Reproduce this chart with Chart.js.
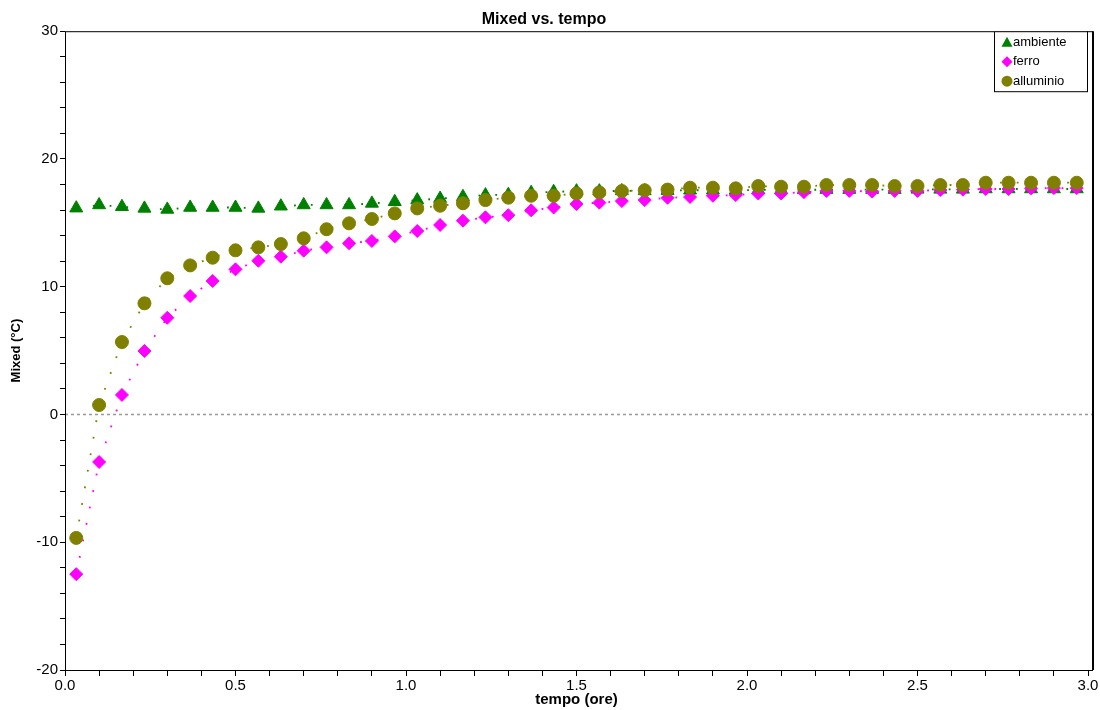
<!DOCTYPE html>
<html>
<head>
<meta charset="utf-8">
<script src="https://cdn.jsdelivr.net/npm/chart.js@4.4.0/dist/chart.umd.min.js"></script>
<style>
  html, body { margin: 0; padding: 0; background: #fff; }
  #wrap { width: 1100px; height: 710px; }
</style>
</head>
<body>
<div id="wrap"><canvas id="graph"></canvas></div>
<script>
// tempo (ore)
const tempo = [0.033, 0.1, 0.167, 0.233, 0.3, 0.367, 0.433, 0.5, 0.567, 0.633,
  0.7, 0.767, 0.833, 0.9, 0.967, 1.033, 1.1, 1.167, 1.233, 1.3,
  1.367, 1.433, 1.5, 1.567, 1.633, 1.7, 1.767, 1.833, 1.9, 1.967,
  2.033, 2.1, 2.167, 2.233, 2.3, 2.367, 2.433, 2.5, 2.567, 2.633,
  2.7, 2.767, 2.833, 2.9, 2.967];

const ambiente = [16.15, 16.4, 16.26, 16.13, 16.05, 16.2, 16.2, 16.2, 16.13, 16.3,
  16.4, 16.4, 16.4, 16.52, 16.65, 16.78, 16.9, 17.04, 17.17, 17.2,
  17.36, 17.43, 17.48, 17.48, 17.5, 17.5, 17.52, 17.55, 17.55, 17.55,
  17.58, 17.58, 17.58, 17.6, 17.6, 17.6, 17.6, 17.62, 17.62, 17.62,
  17.65, 17.65, 17.65, 17.65, 17.65];

const ferro = [-12.5, -3.72, 1.53, 4.97, 7.57, 9.27, 10.45, 11.36, 12.03, 12.35,
  12.82, 13.08, 13.4, 13.58, 13.94, 14.36, 14.83, 15.17, 15.43, 15.6,
  15.98, 16.2, 16.47, 16.58, 16.7, 16.78, 16.96, 17.02, 17.12, 17.17,
  17.3, 17.3, 17.4, 17.5, 17.5, 17.45, 17.5, 17.5, 17.57, 17.6,
  17.65, 17.65, 17.7, 17.72, 17.72];

const alluminio = [-9.66, 0.74, 5.67, 8.7, 10.66, 11.67, 12.27, 12.85, 13.08, 13.34,
  13.79, 14.5, 14.96, 15.3, 15.74, 16.13, 16.34, 16.53, 16.78, 16.97,
  17.12, 17.12, 17.3, 17.38, 17.49, 17.55, 17.6, 17.75, 17.75, 17.7,
  17.88, 17.83, 17.83, 17.96, 17.96, 17.96, 17.88, 17.88, 17.96, 17.96,
  18.14, 18.14, 18.14, 18.14, 18.14];

const seriesNames = ['ambiente', 'ferro', 'alluminio'];
const seriesColors = ['#008000', '#ff00ff', '#808000'];
const seriesShapes = ['triangle', 'rectRot', 'circle'];
const xTickLabels = ['0.0', '0.5', '1.0', '1.5', '2.0', '2.5', '3.0'];
const yTickLabels = [-20, -10, 0, 10, 20, 30];

function pts(vals) {
  return vals.map((v, i) => ({x: tempo[i], y: v}));
}

function makeSet(i, vals, order, radius) {
  return {
    label: seriesNames[i],
    data: pts(vals),
    order: order,
    borderColor: seriesColors[i],
    backgroundColor: seriesColors[i],
    pointBackgroundColor: seriesColors[i],
    pointBorderColor: seriesColors[i],
    pointBorderWidth: 1,
    pointStyle: seriesShapes[i],
    pointRadius: radius,
    borderWidth: 1.8,
    borderDash: [1.8, 15],
    tension: 0,
    showLine: true
  };
}

// frame, zero line and legend box
const decor = {
  id: 'decor',
  beforeDatasetsDraw(chart) {
    const ctx = chart.ctx, a = chart.chartArea;
    const y0 = chart.scales.y.getPixelForValue(0);
    ctx.save();
    ctx.strokeStyle = '#999';
    ctx.lineWidth = 1.5;
    ctx.setLineDash([3, 3]);
    ctx.beginPath();
    ctx.moveTo(a.left, Math.round(y0) + 0.5);
    ctx.lineTo(a.right + 4, Math.round(y0) + 0.5);
    ctx.stroke();
    ctx.restore();
  },
  afterDraw(chart) {
    const ctx = chart.ctx, a = chart.chartArea;
    ctx.save();
    ctx.strokeStyle = '#000';
    ctx.lineWidth = 1;
    ctx.strokeRect(a.left + 0.5, a.top + 0.5, a.right + 4 - a.left, a.bottom - a.top);
    ctx.lineWidth = 2;
    ctx.beginPath();
    ctx.moveTo(a.right + 5, a.top);
    ctx.lineTo(a.right + 5, a.bottom);
    ctx.stroke();

    // legend
    const bx = a.right - 94, by = a.top, bw = 93, bh = 60;
    ctx.fillStyle = '#fff';
    ctx.fillRect(bx, by, bw, bh);
    ctx.lineWidth = 1;
    ctx.strokeRect(bx + 0.5, by + 0.5, bw, bh);
    ctx.font = '13px "Liberation Sans", Arial, sans-serif';
    ctx.textBaseline = 'middle';
    seriesNames.forEach((name, i) => {
      const cy = by + 11 + i * 19.5;
      const cx = bx + 13;
      ctx.fillStyle = seriesColors[i];
      ctx.beginPath();
      if (seriesShapes[i] === 'triangle') {
        ctx.moveTo(cx, cy - 5.5);
        ctx.lineTo(cx + 5.5, cy + 4.5);
        ctx.lineTo(cx - 5.5, cy + 4.5);
      } else if (seriesShapes[i] === 'rectRot') {
        ctx.moveTo(cx, cy - 5.5);
        ctx.lineTo(cx + 5.5, cy);
        ctx.lineTo(cx, cy + 5.5);
        ctx.lineTo(cx - 5.5, cy);
      } else {
        ctx.arc(cx, cy, 5.5, 0, Math.PI * 2);
      }
      ctx.closePath();
      ctx.fill();
      ctx.fillStyle = '#000';
      ctx.fillText(name, cx + 6, cy);
    });
    ctx.restore();
  }
};

const config = {
  type: 'scatter',
  data: {
    datasets: [
      makeSet(0, ambiente, 2, 7.5),
      makeSet(1, ferro, 1, 6.5),
      makeSet(2, alluminio, 0, 6.5)
    ]
  },
  options: {
    responsive: false,
    animation: false,
    layout: { padding: { left: 0, right: 12, top: 0, bottom: 0 } },
    plugins: {
      legend: { display: false },
      tooltip: { enabled: false },
      title: {
        display: true,
        text: 'Mixed vs. tempo',
        color: '#000',
        font: { family: '"Liberation Sans", Arial, sans-serif', size: 16, weight: 'bold' },
        padding: { top: 10, bottom: 2 }
      }
    },
    scales: {
      x: {
        type: 'linear',
        min: 0,
        max: 3,
        afterFit(scale) { scale.height = 40; scale.paddingLeft = 0; scale.paddingRight = 0; },
        grid: { drawOnChartArea: false, tickLength: 6, tickColor: '#000' },
        border: { display: false },
        ticks: {
          stepSize: 0.1,
          autoSkip: false,
          maxRotation: 0,
          padding: 1,
          color: '#000',
          font: { family: '"Liberation Sans", Arial, sans-serif', size: 15 },
          callback(v) {
            const s = v.toFixed(1);
            return xTickLabels.includes(s) ? s : '';
          }
        },
        title: {
          display: true,
          text: 'tempo (ore)',
          color: '#000',
          font: { family: '"Liberation Sans", Arial, sans-serif', size: 15, weight: 'bold' },
          padding: { top: 0, bottom: 1 }
        }
      },
      y: {
        min: -20,
        max: 30,
        afterFit(scale) { scale.width = 65; scale.paddingTop = 0; scale.paddingBottom = 0; },
        grid: { drawOnChartArea: false, tickLength: 5, tickColor: '#000' },
        border: { display: false },
        ticks: {
          stepSize: 2,
          autoSkip: false,
          padding: 2,
          color: '#000',
          font: { family: '"Liberation Sans", Arial, sans-serif', size: 15 },
          callback(v) {
            return yTickLabels.includes(v) ? String(v) : '';
          }
        },
        title: {
          display: true,
          text: 'Mixed (°C)',
          color: '#000',
          font: { family: '"Liberation Sans", Arial, sans-serif', size: 13, weight: 'bold' },
          padding: { top: 9, bottom: 0 }
        }
      }
    }
  },
  plugins: [decor]
};

const graph = document.getElementById('graph');
graph.width = 1100;
graph.height = 710;
new Chart(graph, config);
</script>
</body>
</html>
